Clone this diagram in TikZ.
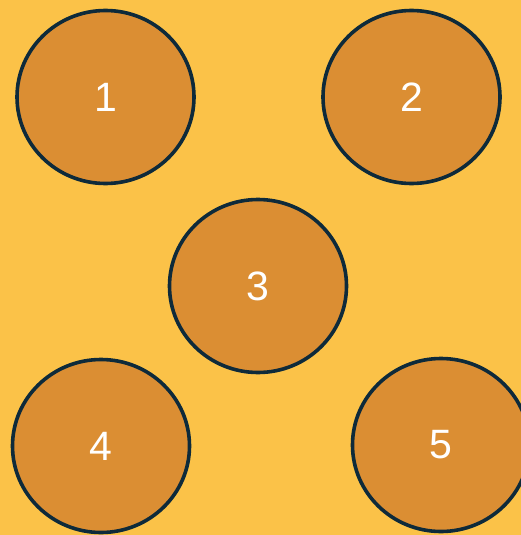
\documentclass[tikz,border=0pt]{standalone}
\usepackage{fontspec}
\setmainfont{Liberation Sans}
\usetikzlibrary{shapes.geometric}
\definecolor{bgyellow}{HTML}{FBC248}
\definecolor{discfill}{HTML}{DB8E33}
\definecolor{discline}{HTML}{0E2A3A}
\begin{document}
\begin{tikzpicture}[
  x=1pt, y=-1pt,
  disc/.style={ellipse, draw=discline, fill=discfill, line width=3.6pt,
    minimum width=177pt, minimum height=173pt, inner sep=0pt,
    text=white, font=\fontsize{41}{41}\selectfont}
  ]
  \fill[bgyellow] (0,0) rectangle (521,535);
  \useasboundingbox (0,0) rectangle (521,535);
  \node[disc] (one)   at (105.5, 97) {1};
  \node[disc] (two)   at (411.5, 97) {2};
  \node[disc] (three) at (258, 286)  {3};
  \node[disc] (four)  at (101, 446)  {4};
  \node[disc] (five)  at (441, 445)  {5};
\end{tikzpicture}
\end{document}
